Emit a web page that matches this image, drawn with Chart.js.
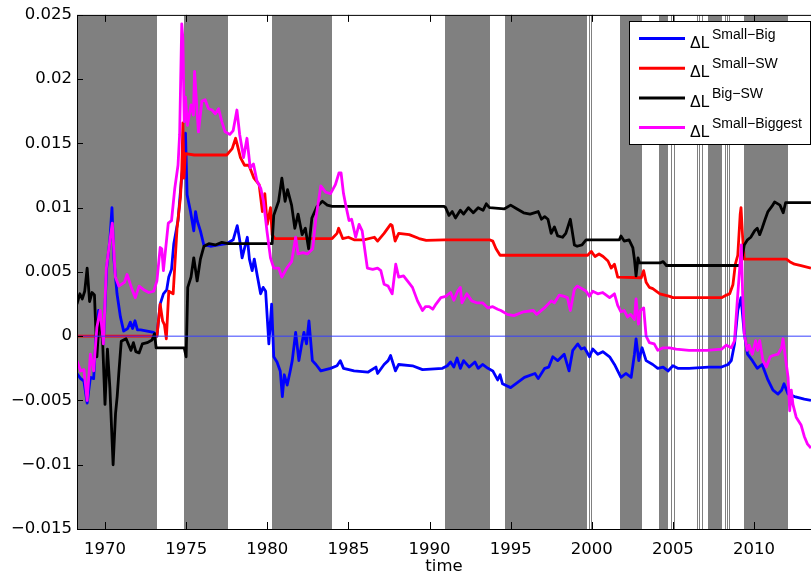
<!DOCTYPE html>
<html>
<head>
<meta charset="utf-8">
<title>ΔL over time</title>
<script src="https://cdn.jsdelivr.net/npm/chart.js@4.4.1/dist/chart.umd.min.js"></script>
<style>
  html, body { margin: 0; padding: 0; background: #fff; }
  #wrap { position: relative; width: 811px; height: 580px; }
</style>
</head>
<body>
<div id="wrap"><canvas id="chart" width="811" height="580"></canvas></div>
<script>
// ── Axis range + ticks ────────────────────────────────────────
const xMin = 1968.274;
const xMax = 2013.513;
const xTicks = [1970, 1975, 1980, 1985, 1990, 1995, 2000, 2005, 2010];
const yTicks = [-0.015, -0.01, -0.005, 0, 0.005, 0.01, 0.015, 0.02, 0.025];
const yTickText = ["−0.015", "−0.01", "−0.005", "0", "0.005", "0.01", "0.015", "0.02", "0.025"];

// ── Shaded periods (grey bands) ───────────────────────────────
const bandStart = [1968.27, 1974.88, 1980.31, 1990.94, 1994.63, 1999.86, 1999.98, 2001.73, 2004.14,
                   2004.90, 2005.05, 2006.48, 2006.62, 2006.77, 2007.16, 2008.19, 2008.33, 2008.45, 2009.40];
const bandEnd   = [1973.21, 1977.59, 1984.01, 1993.70, 1999.73, 1999.92, 2000.04, 2003.07, 2004.73,
                   2004.96, 2005.11, 2006.54, 2006.68, 2006.83, 2008.00, 2008.25, 2008.39, 2008.51, 2012.08];

// ── Legend labels ─────────────────────────────────────────────
const seriesSup = ["Small−Big", "Small−SW", "Big−SW", "Small−Biggest"];

// ── Series: ΔL Small-Big (blue) ───────────────────────────────
const sbT = [1968.27, 1968.5, 1968.7, 1968.9, 1969.1, 1969.3, 1969.45, 1969.6, 1969.75, 1969.9,
  1970.1, 1970.3, 1970.43, 1970.55, 1970.74, 1970.95, 1971.15, 1971.4, 1971.56, 1971.7, 1971.85,
  1972.0, 1972.2, 1972.6, 1973.0, 1973.2, 1973.4, 1973.6, 1973.8, 1973.93, 1974.1, 1974.24, 1974.5,
  1974.7, 1974.85, 1974.96, 1975.06, 1975.27, 1975.47, 1975.58, 1975.68, 1975.88, 1976.09, 1976.5,
  1977.0, 1977.5, 1977.9, 1978.15, 1978.3, 1978.45, 1978.77, 1978.9, 1979.07, 1979.2, 1979.4,
  1979.59, 1979.75, 1979.9, 1980.1, 1980.27, 1980.4, 1980.6, 1980.8, 1980.93, 1981.05, 1981.23,
  1981.4, 1981.54, 1981.75, 1981.95, 1982.1, 1982.26, 1982.42, 1982.57, 1982.78, 1983.0, 1983.3,
  1983.9, 1984.3, 1984.5, 1984.7, 1985.35, 1986.2, 1986.7, 1986.8, 1987.2, 1987.45, 1987.6, 1987.9,
  1988.1, 1988.95, 1989.57, 1990.8, 1991.1, 1991.3, 1991.5, 1991.7, 1991.9, 1992.1, 1992.45, 1992.8,
  1993.0, 1993.27, 1993.6, 1993.9, 1994.2, 1994.35, 1994.5, 1995.0, 1995.85, 1996.5, 1996.7, 1997.1,
  1997.35, 1997.6, 1997.9, 1998.3, 1998.6, 1998.83, 1999.14, 1999.35, 1999.55, 1999.86, 2000.06,
  2000.37, 2000.68, 2001.1, 2001.4, 2001.6, 2001.8, 2002.1, 2002.43, 2002.63, 2002.73, 2002.9, 2003.1,
  2003.35, 2003.76, 2004.07, 2004.4, 2004.7, 2005.0, 2005.3, 2006.0, 2007.2, 2008.0, 2008.4, 2008.6,
  2008.8, 2009.0, 2009.2, 2009.4, 2009.6, 2009.9, 2010.2, 2010.5, 2010.86, 2011.17, 2011.48, 2011.7,
  2011.85, 2012.1, 2012.5, 2013.1, 2013.51];
const sbV = [-0.0029, -0.0033, -0.0035, -0.0052, -0.0032, -0.0033, 0.0, 0.002, 0.001, -0.0006,
  0.0053, 0.0075, 0.01, 0.006, 0.0033, 0.0015, 0.0004, 0.0006, 0.0011, 0.0006, 0.0012,
  0.0005, 0.0005, 0.0004, 0.0003, 0.0, 0.0025, 0.0033, 0.0036, 0.0046, 0.0052, 0.0072, 0.009,
  0.012, 0.014, 0.0158, 0.011, 0.0097, 0.0082, 0.0097, 0.009, 0.0082, 0.0071, 0.007,
  0.0071, 0.0072, 0.0075, 0.0086, 0.0075, 0.0061, 0.0077, 0.006, 0.0051, 0.006, 0.0046,
  0.0033, 0.0038, 0.0035, -0.0006, 0.0025, -0.0016, -0.002, -0.0027, -0.0047, -0.003, -0.0038,
  -0.0028, -0.0019, 0.0003, -0.0019, -0.0008, 0.0003, -0.0006, 0.0012, -0.0019, -0.0022, -0.0027,
  -0.0025, -0.0023, -0.0019, -0.0025, -0.0027, -0.0028, -0.0024, -0.0029, -0.0022, -0.0019, -0.0015, -0.0027,
  -0.0022, -0.0023, -0.0026, -0.0025, -0.0023, -0.002, -0.0024, -0.0017, -0.0025, -0.0019, -0.0024, -0.002,
  -0.0025, -0.0022, -0.0025, -0.0027, -0.0034, -0.003, -0.0037, -0.004, -0.0032, -0.0029, -0.0033, -0.0025,
  -0.0024, -0.0016, -0.0019, -0.0014, -0.0027, -0.0011, -0.0006, -0.001, -0.0009, -0.0016, -0.001,
  -0.0014, -0.0012, -0.0016, -0.0022, -0.0027, -0.0032, -0.0029, -0.0032, -0.0014, -0.0002, -0.0019, -0.0009,
  -0.0019, -0.0022, -0.0025, -0.0024, -0.0027, -0.0023, -0.0025, -0.0025, -0.0024, -0.0024, -0.0022, -0.0019,
  -0.0006, 0.002, 0.003, 0.0002, -0.0014, -0.0019, -0.0025, -0.0022, -0.0034, -0.0042, -0.0045, -0.0042,
  -0.0037, -0.0045, -0.0047, -0.0049, -0.005];

// ── Series: ΔL Small-SW (red) ─────────────────────────────────
const ssT = [1968.27, 1973.2, 1973.4, 1973.55, 1973.66, 1973.78, 1973.93, 1974.2, 1974.44, 1974.65,
  1974.73, 1974.8, 1974.87, 1974.95, 1975.5, 1977.5, 1977.84, 1978.05, 1978.15, 1978.35, 1978.6,
  1978.87, 1979.18, 1979.5, 1979.7, 1979.85, 1980.0, 1980.2, 1980.3, 1980.47, 1984.0, 1984.3, 1984.4,
  1984.65, 1985.0, 1985.35, 1985.95, 1986.6, 1986.8, 1987.2, 1987.6, 1987.7, 1987.88, 1988.1, 1988.75,
  1989.36, 1989.8, 1990.9, 1993.7, 1993.9, 1994.1, 1994.35, 1999.75, 1999.97, 2000.2, 2000.45, 2000.7,
  2001.0, 2001.2, 2001.4, 2001.6, 2003.05, 2003.2, 2003.35, 2003.55, 2003.76, 2004.2, 2004.8, 2005.0,
  2008.0, 2008.3, 2008.5, 2008.7, 2008.85, 2009.0, 2009.15, 2009.2, 2009.3, 2009.4, 2012.0, 2012.2,
  2012.5, 2012.9, 2013.51];
const ssV = [0, 0, 0.0025, 0.0012, 0.0009, -0.0002, 0.0035, 0.0033, 0.0084, 0.0108,
  0.0128, 0.0166, 0.0123, 0.0142, 0.0141, 0.0141, 0.0146, 0.0154, 0.0149, 0.0139, 0.0133,
  0.0133, 0.0123, 0.0118, 0.0097, 0.0111, 0.0087, 0.01, 0.0079, 0.0076, 0.0076, 0.008, 0.0084,
  0.0076, 0.0077, 0.0075, 0.0075, 0.0077, 0.0074, 0.008, 0.0087, 0.0086, 0.0074, 0.008, 0.0079,
  0.0076, 0.00745, 0.0075, 0.0075, 0.0074, 0.0068, 0.0063, 0.0063, 0.0066, 0.0062, 0.0064, 0.0062,
  0.00585, 0.0053, 0.0056, 0.0046, 0.00455, 0.0051, 0.0042, 0.0038, 0.0037, 0.0033, 0.0031, 0.003,
  0.003, 0.0032, 0.0033, 0.004, 0.0056, 0.0063, 0.0095, 0.01, 0.0077, 0.006, 0.006, 0.0058,
  0.0056, 0.0055, 0.0053];

// ── Series: ΔL Big-SW (black) ─────────────────────────────────
const bsT = [1968.27, 1968.45, 1968.6, 1968.75, 1968.9, 1969.05, 1969.2, 1969.35, 1969.5, 1969.65,
  1969.85, 1970.0, 1970.15, 1970.3, 1970.5, 1970.65, 1970.75, 1970.85, 1971.0, 1971.3, 1971.6,
  1971.75, 1971.9, 1972.1, 1972.3, 1972.6, 1972.9, 1973.05, 1973.15, 1974.88, 1975.0, 1975.1, 1975.3,
  1975.47, 1975.68, 1975.88, 1976.1, 1976.4, 1976.8, 1977.2, 1977.6, 1980.3, 1980.4, 1980.7, 1980.9,
  1981.1, 1981.25, 1981.5, 1981.7, 1981.9, 1982.15, 1982.35, 1982.55, 1982.75, 1983.07, 1983.4, 1983.7,
  1984.0, 1990.9, 1991.0, 1991.2, 1991.4, 1991.6, 1991.9, 1992.1, 1992.4, 1992.7, 1993.0, 1993.3,
  1993.5, 1993.7, 1994.6, 1995.0, 1995.4, 1995.8, 1996.2, 1996.7, 1996.9, 1997.1, 1997.3, 1997.5,
  1997.7, 1997.9, 1998.2, 1998.4, 1998.68, 1998.93, 1999.1, 1999.4, 1999.65, 2001.7, 2001.8, 2002.0,
  2002.3, 2002.53, 2002.63, 2002.73, 2002.85, 2002.94, 2004.2, 2004.4, 2004.6, 2009.1, 2009.2, 2009.4,
  2009.6, 2009.8, 2010.04, 2010.2, 2010.35, 2010.5, 2010.66, 2010.86, 2011.1, 2011.27, 2011.6, 2011.8,
  2011.95, 2013.51];
const bsV = [0.0025, 0.0033, 0.0029, 0.0035, 0.0053, 0.0027, 0.0034, 0.0032, -0.0016, 0.0015,
  -0.0003, -0.0053, -0.001, -0.004, -0.01, -0.006, -0.0047, -0.0029, -0.0004, -0.0002, -0.0011,
  -0.0005, -0.0012, -0.0013, -0.0006, -0.0005, -0.0003, 0.0002, -0.0009, -0.0009, -0.0016, 0.0038, 0.0046,
  0.0061, 0.0043, 0.006, 0.007, 0.0072, 0.0071, 0.0073, 0.0072, 0.0072, 0.0094, 0.0105, 0.0123,
  0.0105, 0.0114, 0.0102, 0.0084, 0.0095, 0.0079, 0.0084, 0.0068, 0.0092, 0.0101, 0.0105, 0.0102,
  0.0101, 0.0101, 0.01, 0.0094, 0.0097, 0.0092, 0.0098, 0.0095, 0.01, 0.0096, 0.01, 0.0098,
  0.0103, 0.01, 0.0099, 0.0102, 0.0099, 0.0096, 0.0095, 0.0097, 0.0091, 0.0093, 0.0091, 0.008,
  0.0085, 0.0078, 0.0077, 0.008, 0.0091, 0.0071, 0.007, 0.0071, 0.0075, 0.0075, 0.0078, 0.0074,
  0.0075, 0.0069, 0.006, 0.0047, 0.0061, 0.0057, 0.0057, 0.0058, 0.0055, 0.0055, 0.0056, 0.0071,
  0.0075, 0.0077, 0.0082, 0.0084, 0.0079, 0.0084, 0.009, 0.0097, 0.0101, 0.01045, 0.0102, 0.0096,
  0.0104, 0.0104];

// ── Series: ΔL Small-Biggest (magenta) ────────────────────────
const sgT = [1968.27, 1968.5, 1968.7, 1968.9, 1969.1, 1969.3, 1969.5, 1969.7, 1969.9, 1970.08,
  1970.33, 1970.45, 1970.64, 1970.85, 1971.2, 1971.36, 1971.65, 1971.87, 1972.1, 1972.4, 1972.7,
  1973.0, 1973.2, 1973.4, 1973.5, 1973.6, 1973.9, 1974.1, 1974.3, 1974.5, 1974.6, 1974.73, 1974.8,
  1974.88, 1974.96, 1975.08, 1975.3, 1975.45, 1975.52, 1975.7, 1975.76, 1975.97, 1976.17, 1976.38,
  1976.6, 1976.8, 1977.0, 1977.2, 1977.4, 1977.7, 1977.9, 1978.13, 1978.3, 1978.54, 1978.75, 1978.95,
  1979.15, 1979.36, 1979.6, 1979.77, 1979.98, 1980.2, 1980.4, 1980.7, 1980.9, 1981.2, 1981.5, 1981.75,
  1981.9, 1982.2, 1982.47, 1982.8, 1983.0, 1983.3, 1983.6, 1983.9, 1984.2, 1984.42, 1984.55, 1984.7,
  1984.83, 1985.04, 1985.2, 1985.45, 1985.66, 1985.85, 1986.17, 1986.5, 1986.8, 1987.0, 1987.2,
  1987.45, 1987.7, 1987.92, 1988.1, 1988.4, 1988.64, 1988.95, 1989.26, 1989.57, 1989.75, 1989.98,
  1990.2, 1990.4, 1990.7, 1991.0, 1991.3, 1991.5, 1991.73, 1991.9, 1992.0, 1992.3, 1992.6, 1992.9,
  1993.27, 1993.6, 1993.9, 1994.2, 1994.4, 1994.8, 1995.2, 1995.8, 1996.4, 1996.6, 1997.08, 1997.5,
  1997.7, 1998.0, 1998.3, 1998.5, 1998.68, 1998.93, 1999.1, 1999.4, 1999.65, 1999.86, 2000.06,
  2000.37, 2000.68, 2001.1, 2001.4, 2001.6, 2001.8, 2002.0, 2002.2, 2002.4, 2002.63, 2002.73,
  2002.88, 2003.0, 2003.2, 2003.35, 2003.55, 2003.85, 2004.07, 2004.4, 2004.8, 2005.2, 2006.0,
  2007.1, 2008.0, 2008.3, 2008.6, 2008.8, 2008.97, 2009.12, 2009.22, 2009.3, 2009.4, 2009.58, 2009.7,
  2009.9, 2010.1, 2010.22, 2010.35, 2010.55, 2010.76, 2011.0, 2011.17, 2011.48, 2011.7, 2011.79,
  2011.93, 2012.1, 2012.2, 2012.3, 2012.4, 2012.6, 2012.9, 2013.1, 2013.3, 2013.51];
const sgV = [-0.0019, -0.0027, -0.0026, -0.005, -0.0014, -0.0027, 0.0007, 0.002, -0.0006, 0.0053,
  0.0077, 0.0088, 0.0046, 0.0039, 0.0042, 0.0048, 0.0037, 0.003, 0.0039, 0.0036, 0.0034,
  0.0035, 0.0043, 0.0069, 0.0068, 0.0051, 0.0088, 0.009, 0.0115, 0.0133, 0.0157, 0.0243, 0.0232,
  0.0167, 0.0186, 0.0164, 0.018, 0.0172, 0.0206, 0.017, 0.0159, 0.0183, 0.0184, 0.0177,
  0.0176, 0.0173, 0.0177, 0.0167, 0.0159, 0.0157, 0.016, 0.0176, 0.0157, 0.0139, 0.0154, 0.0131,
  0.0134, 0.0121, 0.0115, 0.0105, 0.0082, 0.0061, 0.0053, 0.0053, 0.0046, 0.0053, 0.0058, 0.0077,
  0.0064, 0.0065, 0.0064, 0.0068, 0.0092, 0.0117, 0.0112, 0.0111, 0.0118, 0.0127, 0.0127, 0.0111,
  0.01025, 0.009, 0.0091, 0.0077, 0.0087, 0.0082, 0.0053, 0.0052, 0.0053, 0.0051, 0.00405,
  0.0039, 0.0033, 0.0056, 0.0046, 0.0047, 0.0043, 0.0038, 0.00275, 0.002, 0.0023, 0.0023,
  0.0021, 0.0025, 0.003, 0.0031, 0.0034, 0.0028, 0.0035, 0.0038, 0.0026, 0.0033, 0.00275, 0.0026,
  0.0026, 0.0022, 0.0023, 0.0021, 0.002, 0.0017, 0.0016, 0.0019, 0.002, 0.0017, 0.0022, 0.00275,
  0.0026, 0.0032, 0.0031, 0.003, 0.002, 0.00365, 0.0039, 0.0037, 0.0035, 0.0031, 0.0035,
  0.0033, 0.0034, 0.003, 0.0033, 0.0024, 0.0019, 0.002, 0.0015, 0.0017, 0.0013, 0.0029,
  0.00095, 0.002, 0.0022, 0.0, -0.0005, -0.0006, -0.0011, -0.0009, -0.0009, -0.001, -0.0011,
  -0.0011, -0.001, -0.0007, -0.0009, -0.00035, 0.00275, 0.0053, 0.0071, 0.0033, 0.0002, -0.0011, -0.0007,
  -0.0014, -0.00035, -0.0011, -0.00035, -0.0019, -0.0024, -0.0016, -0.0015, -0.0014, -0.0009, -0.0002,
  -0.0016, -0.0032, -0.0058, -0.0042, -0.0053, -0.0063, -0.0069, -0.0078, -0.0084, -0.0087];

// horizontal reference at zero
const zeroT = [xMin, xMax];
const zeroV = [0, 0];

// ── Helpers ───────────────────────────────────────────────────
const FONT = "'DejaVu Sans', sans-serif";
const LEGEND_FONT = "'Liberation Sans', Arial, sans-serif";
const toPoints = (ts, vs) => ts.map((t, i) => ({ x: t, y: vs[i] }));

function lineSet(label, ts, vs, color, order) {
  return {
    label: label,
    data: toPoints(ts, vs),
    borderColor: color,
    backgroundColor: color,
    borderWidth: 2.8,
    pointRadius: 0,
    tension: 0,
    borderJoinStyle: "round",
    order: order
  };
}

const seriesColors = ["#0000ff", "#ff0000", "#000000", "#ff00ff"];

// ── Plugin: grey bands, frame, inward ticks, legend ───────────
const matlabLook = {
  id: "matlabLook",
  beforeDatasetsDraw(chart) {
    const { ctx, chartArea: a, scales: { x } } = chart;
    ctx.save();
    ctx.beginPath();
    ctx.rect(a.left, a.top, a.right - a.left, a.bottom - a.top);
    ctx.clip();
    ctx.fillStyle = "#808080";
    bandStart.forEach((s, i) => {
      const x0 = Math.round(x.getPixelForValue(s));
      const x1 = Math.round(x.getPixelForValue(bandEnd[i]));
      ctx.fillRect(x0, a.top, Math.max(x1 - x0, 1), a.bottom - a.top);
    });
    ctx.restore();
  },
  afterDatasetsDraw(chart) {
    const { ctx, chartArea: a, scales: { x, y } } = chart;
    ctx.save();
    ctx.strokeStyle = "#000";
    ctx.lineWidth = 1;

    // frame: left, top, bottom (right side falls off the picture)
    ctx.beginPath();
    ctx.moveTo(a.left + 0.5, a.top + 0.5);
    ctx.lineTo(a.left + 0.5, a.bottom + 0.5);
    ctx.moveTo(a.left, a.top + 0.5);
    ctx.lineTo(a.right, a.top + 0.5);
    ctx.moveTo(a.left, a.bottom + 0.5);
    ctx.lineTo(a.right, a.bottom + 0.5);

    // inward tick marks
    xTicks.forEach(t => {
      const px = Math.round(x.getPixelForValue(t)) + 0.5;
      ctx.moveTo(px, a.top);
      ctx.lineTo(px, a.top + 7);
      ctx.moveTo(px, a.bottom);
      ctx.lineTo(px, a.bottom - 7);
    });
    yTicks.forEach(v => {
      const py = Math.round(y.getPixelForValue(v)) + 0.5;
      ctx.moveTo(a.left, py);
      ctx.lineTo(a.left + 6, py);
    });
    ctx.stroke();

    // legend box
    const bx = 629.5, by = 21.5, bw = 181, bh = 123;
    ctx.fillStyle = "#fff";
    ctx.fillRect(bx, by, bw, bh);
    ctx.strokeRect(bx, by, bw, bh);

    seriesSup.forEach((sup, i) => {
      const ly = 38.5 + i * 29.7;
      ctx.strokeStyle = seriesColors[i];
      ctx.lineWidth = 3;
      ctx.beginPath();
      ctx.moveTo(639, ly);
      ctx.lineTo(685, ly);
      ctx.stroke();

      ctx.fillStyle = "#000";
      ctx.textBaseline = "alphabetic";
      ctx.textAlign = "left";
      ctx.font = "16px " + LEGEND_FONT;
      ctx.fillText("ΔL", 690, ly + 9);
      ctx.font = "14px " + LEGEND_FONT;
      ctx.fillText(sup, 712, ly);
    });
    ctx.restore();
  }
};

// ── Chart ─────────────────────────────────────────────────────
Chart.defaults.color = "#000";
Chart.defaults.font.family = FONT;

new Chart(document.getElementById("chart"), {
  type: "line",
  data: {
    datasets: [
      {
        label: "zero",
        data: toPoints(zeroT, zeroV),
        borderColor: "rgba(50, 60, 255, 0.65)",
        borderWidth: 1.4,
        pointRadius: 0,
        order: 0
      },
      lineSet("ΔL Small−Big", sbT, sbV, seriesColors[0], 4),
      lineSet("ΔL Small−SW", ssT, ssV, seriesColors[1], 3),
      lineSet("ΔL Big−SW", bsT, bsV, seriesColors[2], 2),
      lineSet("ΔL Small−Biggest", sgT, sgV, seriesColors[3], 1)
    ]
  },
  options: {
    responsive: false,
    animation: false,
    events: [],
    layout: { padding: { top: 13, right: 0, left: 0, bottom: 0 } },
    plugins: {
      legend: { display: false },
      tooltip: { enabled: false }
    },
    scales: {
      x: {
        type: "linear",
        min: xMin,
        max: xMax,
        grid: { display: false, drawTicks: false },
        border: { display: false },
        afterBuildTicks: s => { s.ticks = xTicks.map(v => ({ value: v })); },
        afterFit: s => { s.height = 51; },
        ticks: {
          padding: 11,
          maxRotation: 0,
          font: { size: 16.5 },
          callback: v => String(v)
        },
        title: {
          display: true,
          text: "time",
          font: { size: 16.5 },
          padding: { top: 0, bottom: 3 }
        }
      },
      y: {
        type: "linear",
        min: -0.015,
        max: 0.025,
        grid: { display: false, drawTicks: false },
        border: { display: false },
        afterBuildTicks: s => { s.ticks = yTicks.map(v => ({ value: v })); },
        afterFit: s => { s.width = 77; },
        ticks: {
          padding: 5,
          font: { size: 16.5 },
          callback: (v, i) => yTickText[i]
        }
      }
    }
  },
  plugins: [matlabLook]
});
</script>
</body>
</html>
